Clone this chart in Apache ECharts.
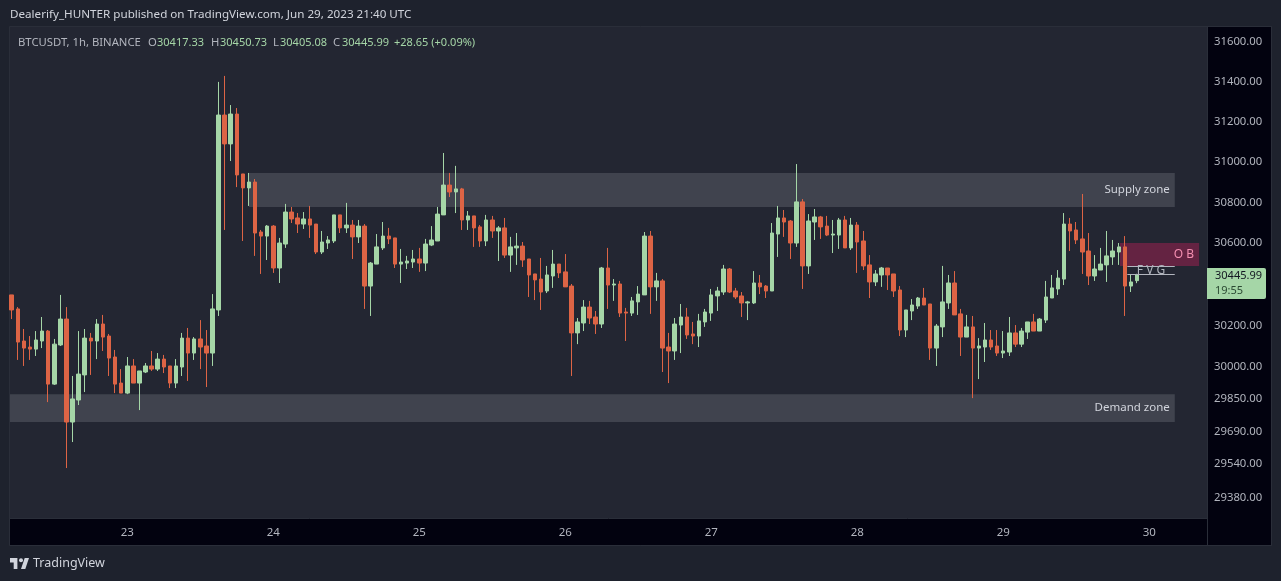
<!DOCTYPE html>
<html><head><meta charset="utf-8">
<style>html,body{margin:0;padding:0;background:#1e222d;overflow:hidden}#c{width:1281px;height:581px}</style>
<script src="https://cdn.jsdelivr.net/npm/echarts@6/dist/echarts.min.js"></script>
</head><body><div id="c"></div>
<script>
const opens=[30348,30280,30125,30096,30086,30125,30173,29918,30106,30231,
29737,29842,29962,30139,30125,30207,30149,30048,29923,29875,
30005,29923,29976,30005,29990,30038,30005,29923,30000,30139,
30067,30135,30101,30067,30275,31234,31090,31239,30941,30872,
30901,30655,30635,30684,30479,30596,30753,30724,30694,30719,
30694,30557,30601,30611,30739,30675,30689,30631,30684,30391,
30498,30577,30635,30626,30498,30503,30508,30523,30503,30591,
30611,30739,30886,30852,30867,30714,30734,30680,30611,30714,
30660,30675,30542,30577,30586,30523,30450,30425,30367,30440,
30498,30460,30391,30164,30212,30289,30241,30207,30479,30396,
30401,30265,30260,30314,30348,30635,30387,30416,30096,30077,
30202,30241,30159,30149,30217,30260,30343,30362,30474,30367,
30343,30309,30309,30406,30391,30367,30645,30724,30709,30601,
30803,30489,30704,30729,30684,30640,30640,30714,30577,30689,
30611,30494,30411,30445,30479,30450,30372,30178,30270,30294,
30333,30304,30091,30193,30309,30406,30256,30144,30193,30091,
30096,30130,30101,30067,30072,30164,30110,30168,30217,30173,
30226,30333,30377,30425,30694,30665,30621,30562,30440,30469,
30494,30533,30557,30582,30391,30417.33];
const closes=[30275,30120,30091,30086,30130,30173,29918,30110,30231,29737,
29847,29966,30139,30125,30207,30144,30043,29918,29875,30005,
29923,29981,30005,29990,30038,30000,29923,30005,30139,30067,
30135,30096,30067,30280,31234,31090,31239,30936,30872,30901,
30650,30635,30684,30479,30601,30753,30719,30694,30719,30689,
30557,30606,30616,30739,30675,30689,30631,30684,30391,30503,
30582,30635,30621,30498,30508,30513,30523,30503,30596,30616,
30743,30886,30852,30867,30714,30734,30675,30611,30714,30660,
30675,30542,30582,30586,30518,30445,30421,30362,30445,30498,
30455,30387,30164,30217,30289,30236,30207,30479,30396,30401,
30260,30260,30319,30352,30635,30387,30416,30091,30077,30207,
30241,30154,30149,30222,30265,30348,30367,30474,30362,30338,
30309,30314,30406,30387,30367,30650,30724,30704,30601,30803,
30489,30709,30729,30680,30640,30645,30714,30577,30689,30606,
30489,30411,30450,30479,30445,30367,30178,30275,30299,30333,
30299,30091,30197,30314,30406,30251,30144,30193,30091,30101,
30130,30096,30067,30077,30164,30110,30173,30217,30173,30231,
30338,30382,30430,30694,30660,30616,30557,30440,30474,30498,
30538,30562,30582,30391,30411,30445.99];
const highs=[30348,30289,30183,30149,30173,30241,30178,30135,30348,30289,
29957,30173,30183,30164,30231,30251,30159,30082,29990,30048,
30038,29981,30019,30077,30067,30058,30005,30038,30164,30188,
30144,30226,30178,30352,31400,31430,31284,31269,30941,30946,
30916,30665,30689,30689,30626,30793,30778,30748,30753,30783,
30694,30660,30635,30739,30739,30798,30714,30714,30694,30508,
30645,30704,30675,30626,30572,30538,30567,30577,30621,30684,
30778,31045,30946,30981,30872,30758,30734,30689,30739,30734,
30684,30724,30631,30650,30606,30523,30450,30528,30489,30567,
30498,30547,30401,30236,30323,30319,30270,30484,30577,30425,
30416,30285,30338,30391,30655,30660,30455,30425,30164,30236,
30304,30285,30217,30256,30280,30377,30387,30494,30479,30382,
30362,30319,30464,30445,30396,30699,30783,30763,30714,30990,
30817,30743,30768,30734,30734,30714,30724,30734,30724,30704,
30660,30542,30469,30484,30479,30450,30391,30275,30328,30338,
30382,30304,30207,30489,30445,30464,30280,30251,30246,30139,
30212,30178,30178,30173,30241,30202,30188,30217,30256,30236,
30416,30445,30469,30748,30724,30704,30842,30650,30542,30577,
30660,30616,30601,30635,30445,30450.73];
const lows=[30231,30034,30005,30034,30053,30091,29832,29914,30101,29519,
29642,29818,29880,29962,30038,30077,29957,29875,29875,29870,
29923,29794,29971,29981,29981,29971,29899,29899,29957,29933,
30034,29990,29904,30005,30246,30665,31005,30876,30611,30783,
30538,30450,30518,30455,30406,30577,30699,30650,30670,30626,
30547,30547,30572,30601,30650,30650,30523,30601,30280,30246,
30498,30567,30596,30479,30406,30474,30479,30460,30464,30586,
30611,30739,30827,30748,30665,30665,30582,30582,30586,30626,
30513,30528,30460,30494,30484,30338,30323,30275,30357,30382,
30430,30387,29957,30110,30173,30207,30159,30188,30280,30319,
30241,30125,30246,30251,30348,30256,30319,29976,29923,30034,
30067,30135,30110,30096,30193,30222,30270,30348,30357,30328,
30241,30226,30304,30352,30333,30367,30533,30631,30523,30582,
30377,30450,30616,30621,30635,30552,30572,30577,30567,30455,
30469,30333,30391,30387,30372,30338,30149,30144,30226,30280,
30299,30034,30005,30144,30280,30251,30053,30144,29851,29942,
30024,30082,30053,30043,30053,30096,30096,30135,30173,30173,
30212,30333,30348,30396,30562,30596,30450,30396,30416,30469,
30411,30494,30494,30246,30362,30405.08];
const priceTicks=[31600,31400,31200,31000,30800,30600,30200,30000,29850,29690,29540,29380];
const dayTicks=[19,43,67,91,115,139,163,187];
const dayLabels=['23','24','25','26','27','28','29','30'];
const supplyZone=[39,191.2,30946,30778];
const demandZone=[-1,191.2,29870,29737];
const obZone=[182.2,195.2,30601,30489];
const fvgZone=[183.4,191.2,30489,30447];
const FONT='"Noto Sans",sans-serif';
const UP='#a5d6a7',DOWN='#dd6445',GREY='#b2b5be';
const zone=(z,name,fill,col,extra)=>[{coord:[z[0],z[2]],itemStyle:{color:fill},
 label:Object.assign({show:true,position:'insideRight',formatter:name,color:col,fontFamily:FONT,fontSize:11.5},extra||{})},{coord:[z[1],z[3]]}];
const chart=echarts.init(document.getElementById('c'),null,{renderer:'canvas',width:1281,height:581});
const txt=(x,y,s,fill,size,z)=>({type:'text',left:x,top:y,z:z||5,style:{text:s,fill:fill,font:size+'px '+FONT}});
chart.setOption({
 animation:false,backgroundColor:'#1e222d',
 grid:{left:10,right:74,top:27,bottom:63,show:true,backgroundColor:'#232632',borderWidth:0},
 xAxis:{type:'value',min:-0.28,max:196.5,splitLine:{show:false},axisLine:{show:false},axisTick:{show:false},
  axisLabel:{customValues:dayTicks,formatter:v=>dayLabels[dayTicks.indexOf(v)],color:GREY,fontFamily:FONT,fontSize:11.5,margin:9}},
 yAxis:{type:'log',position:'right',min:29284,max:31677,splitLine:{show:false},axisLine:{show:false},axisTick:{show:false},
  axisLabel:{customValues:priceTicks,formatter:v=>Number(v).toFixed(2),color:GREY,fontFamily:FONT,fontSize:11.3,margin:7,padding:[5,0,0,0]}},
 series:[{type:'candlestick',barWidth:4,clip:true,
  data:opens.map((o,i)=>[i,o,closes[i],lows[i],highs[i]]),
  itemStyle:{color:UP,color0:DOWN,borderColor:UP,borderColor0:DOWN,borderWidth:1},
  markArea:{silent:true,data:[
   zone(supplyZone,'Supply zone','rgba(209,212,220,0.17)','#d1d4dc'),
   zone(demandZone,'Demand zone','rgba(209,212,220,0.17)','#d1d4dc'),
   zone(obZone,'O B','rgba(233,30,99,0.33)','#f48fb1',{fontSize:12,distance:5}),
   zone(fvgZone,'F V G','rgba(0,0,0,0)',GREY,{position:'inside',fontSize:12})
  ]},
  markLine:{silent:true,symbol:'none',label:{show:false},lineStyle:{color:GREY,width:1,type:'solid'},data:[
   [{coord:[fvgZone[0],fvgZone[2]]},{coord:[fvgZone[1],fvgZone[2]]}],
   [{coord:[fvgZone[0],fvgZone[3]]},{coord:[fvgZone[1],fvgZone[3]]}]
  ]}
 }],
 graphic:[
  {type:'rect',z:-10,shape:{x:1207,y:27,width:64,height:518},style:{fill:'#02020f'},silent:true},
  {type:'rect',z:-10,shape:{x:10,y:518,width:1197,height:27},style:{fill:'#02020f'},silent:true},
  {type:'rect',z:-9,shape:{x:9.5,y:26.5,width:1262,height:519},style:{fill:'none',stroke:'#2a2e39',lineWidth:1},silent:true},
  {type:'line',z:-9,shape:{x1:1207.5,y1:27,x2:1207.5,y2:545},style:{stroke:'#2a2e39',lineWidth:1},silent:true},
  {type:'line',z:-9,shape:{x1:10,y1:518.5,x2:1207,y2:518.5},style:{stroke:'#2a2e39',lineWidth:1},silent:true},
  txt(10,9,'Dealerify_HUNTER published on TradingView.com, Jun 29, 2023 21:40 UTC','#d1d4dc',11.65),
  txt(18,37,'BTCUSDT, 1h, BINANCE',GREY,11.3),
  txt(148,37,'O',GREY,11.3),txt(157,37,'30417.33',UP,11),
  txt(211,37,'H',GREY,11.3),txt(220,37,'30450.73',UP,11),
  txt(273,37,'L',GREY,11.3),txt(280,37,'30405.08',UP,11),
  txt(333,37,'C',GREY,11.3),txt(342,37,'30445.99',UP,11),
  txt(394,37,'+28.65 (+0.09%)',UP,11),
  {type:'rect',z:5,shape:{x:1207,y:268,width:59,height:31,r:[0,2,2,0]},style:{fill:UP},silent:true},
  txt(1215,270,'30445.99','#131722',11,6),
  txt(1215,285,'19:55','#2b4a33',11,6),
  {type:'polygon',z:5,shape:{points:[[10,558],[17.4,558],[17.4,569],[13.7,569],[13.7,562.4],[10,562.4]]},style:{fill:'#d1d4dc'},silent:true},
  {type:'polygon',z:5,shape:{points:[[21,569],[25.3,569],[29,558],[24.7,558]]},style:{fill:'#d1d4dc'},silent:true},
  {type:'circle',z:5,shape:{cx:21,cy:560.2,r:2},style:{fill:'#d1d4dc'},silent:true},
  txt(33,557,'TradingView','#d1d4dc',12.5)
 ]
});
</script></body></html>
